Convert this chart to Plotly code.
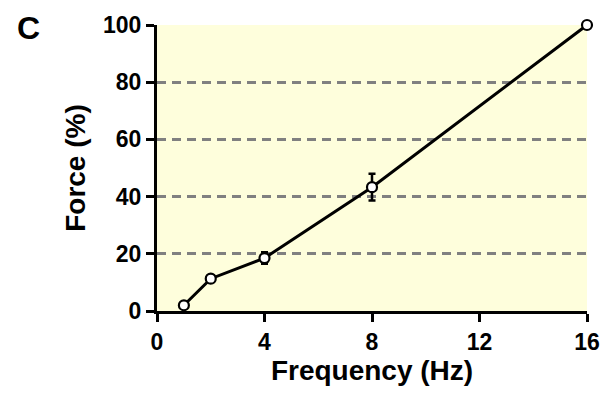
import plotly.graph_objects as go

freq = [1, 2, 4, 8, 16]
force = [2.0, 11.3, 18.5, 43.3, 100.0]
force_err = [0.0, 0.0, 2.0, 4.7, 0.0]
x_ticks = [0, 4, 8, 12, 16]
y_ticks = [0, 20, 40, 60, 80, 100]
grid_vals = [20, 40, 60, 80]

FONT = "Liberation Sans"

fig = go.Figure()
# invisible trace to carry dashed gridlines on a second y axis
fig.add_trace(go.Scatter(x=[0], y=[0], yaxis="y2", mode="markers",
                         marker=dict(opacity=0), showlegend=False,
                         hoverinfo="skip"))
fig.add_trace(go.Scatter(
    x=freq, y=force, yaxis="y",
    mode="lines+markers",
    line=dict(color="black", width=3),
    marker=dict(symbol="circle", size=10, color="white",
                line=dict(color="black", width=2.2)),
    error_y=dict(type="data", array=force_err, visible=True,
                 color="black", thickness=2.5, width=3.5),
    cliponaxis=False,
    showlegend=False,
))

fig.update_layout(
    width=612, height=405,
    margin=dict(l=157, r=22, t=22, b=94),
    paper_bgcolor="white",
    plot_bgcolor="#FEFEDC",
    font=dict(family=FONT, color="black"),
    xaxis=dict(
        range=[0, 16], tickvals=x_ticks, ticktext=[str(v) for v in x_ticks],
        showgrid=False, zeroline=False,
        showline=True, linecolor="black", linewidth=3,
        ticks="outside", ticklen=8, tickwidth=3, tickcolor="black",
        tickfont=dict(family=FONT, size=23, color="black", weight="bold"),
        title=dict(text="Frequency (Hz)", standoff=5,
                   font=dict(family=FONT, size=28, color="black", weight="bold")),
    ),
    yaxis=dict(
        range=[0, 100], tickvals=y_ticks, ticktext=[str(v) for v in y_ticks],
        showgrid=False, zeroline=False,
        showline=True, linecolor="black", linewidth=3,
        ticks="outside", ticklen=8, tickwidth=3, tickcolor="black",
        tickfont=dict(family=FONT, size=23, color="black", weight="bold"),
        title=dict(text="Force (%)", standoff=10,
                   font=dict(family=FONT, size=28, color="black", weight="bold")),
    ),
    yaxis2=dict(
        range=[0, 100], overlaying="y", tickvals=grid_vals, showticklabels=False,
        showgrid=True, gridcolor="#808080", gridwidth=2.5, griddash="9px,6px",
        zeroline=False, showline=False, ticks="",
    ),
    annotations=[dict(text="C", x=-0.298, y=0.99, xref="paper", yref="paper",
                      xanchor="center", yanchor="middle", showarrow=False,
                      font=dict(family=FONT, size=32, color="black", weight="bold"))],
)
fig.write_html("out.html")
